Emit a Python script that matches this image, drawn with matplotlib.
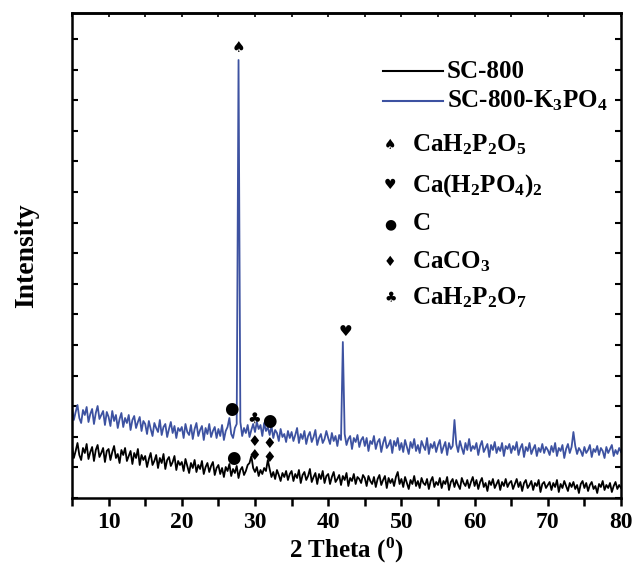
import numpy as np
import matplotlib
matplotlib.use("Agg")
import matplotlib.pyplot as plt

plt.rcParams['font.family'] = ['Liberation Serif', 'DejaVu Sans']
plt.rcParams['font.weight'] = 'bold'
plt.rcParams['mathtext.fontset'] = 'custom'
plt.rcParams['mathtext.rm'] = 'Liberation Serif:bold'
plt.rcParams['mathtext.it'] = 'Liberation Serif:bold'
plt.rcParams['mathtext.bf'] = 'Liberation Serif:bold'
plt.rcParams['path.simplify'] = False

# 2 theta scan, 0.25 deg step, 5 -> 80
two_theta = np.arange(5, 80.001, 0.25)

# SC-800-K3PO4 (a.u.)
sc800_k3po4 = [
    90, 78, 86, 93, 80, 75, 88, 83, 91, 76, 84, 89, 74, 85, 92, 79, 83, 87, 73, 86,
    81, 72, 87, 77, 83, 70, 79, 85, 71, 80, 75, 83, 68, 78, 82, 70, 76, 81, 67, 77,
    74, 64, 77, 69, 62, 75, 70, 66, 78, 63, 71, 74, 61, 69, 76, 65, 72, 60, 70, 67,
    71, 60, 74, 66, 63, 73, 59, 69, 75, 62, 68, 72, 58, 70, 64, 74, 61, 67, 71, 60,
    69, 62, 73, 58, 67, 71, 80, 64, 60, 70, 74, 438, 76, 62, 70, 65, 73, 61, 68, 74,
    66, 76, 69, 73, 62, 75, 67, 71, 63, 72, 60, 68, 65, 57, 69, 61, 64, 56, 67, 60,
    66, 57, 63, 70, 55, 64, 59, 67, 54, 62, 66, 56, 61, 68, 53, 60, 64, 55, 59, 67,
    60, 54, 65, 57, 62, 52, 63, 58, 156, 64, 53, 59, 62, 49, 60, 56, 63, 51, 58, 61,
    52, 60, 47, 57, 54, 62, 49, 56, 59, 46, 55, 61, 50, 53, 58, 45, 57, 52, 60, 48,
    55, 46, 58, 51, 44, 56, 50, 59, 47, 53, 45, 57, 52, 48, 60, 44, 54, 50, 56, 46,
    53, 58, 45, 51, 56, 43, 55, 49, 52, 78, 54, 46, 57, 50, 44, 55, 48, 59, 47, 52,
    49, 55, 43, 52, 57, 46, 50, 54, 41, 53, 48, 56, 45, 51, 47, 55, 42, 52, 49, 54,
    45, 52, 48, 56, 43, 50, 54, 41, 51, 47, 55, 44, 49, 53, 42, 50, 46, 54, 45, 51,
    48, 43, 52, 46, 55, 42, 50, 47, 53, 40, 49, 54, 45, 51, 66, 52, 44, 50, 47, 42,
    51, 45, 48, 53, 41, 49, 46, 52, 43, 50, 47, 40, 51, 45, 49, 53, 42, 48, 44, 50,
    46,
]

# SC-800 (a.u.)
sc800 = [
    52, 40, 47, 55, 43, 38, 50, 45, 54, 39, 46, 51, 37, 48, 53, 41, 45, 50, 36, 47,
    49, 38, 46, 52, 40, 44, 35, 48, 43, 50, 37, 42, 47, 34, 45, 40, 49, 33, 43, 38,
    42, 31, 39, 45, 33, 37, 43, 30, 40, 35, 44, 29, 38, 41, 32, 36, 42, 28, 37, 33,
    36, 27, 39, 32, 25, 35, 30, 38, 26, 33, 29, 37, 24, 31, 35, 26, 32, 36, 23, 30,
    33, 24, 30, 21, 31, 27, 34, 22, 29, 25, 32, 20, 28, 31, 23, 27, 33, 35, 42, 30,
    26, 31, 22, 28, 24, 30, 27, 38, 29, 21, 26, 19, 28, 23, 17, 25, 21, 27, 18, 24,
    27, 17, 24, 20, 28, 15, 23, 26, 18, 22, 29, 16, 21, 25, 14, 24, 19, 27, 15, 22,
    24, 14, 21, 26, 16, 19, 23, 13, 22, 18, 25, 12, 20, 17, 24, 14, 21, 19, 15, 23,
    20, 12, 22, 17, 14, 21, 11, 19, 23, 13, 18, 22, 10, 20, 15, 19, 12, 21, 26, 14,
    19, 11, 21, 15, 9, 18, 14, 22, 12, 17, 10, 20, 15, 13, 19, 9, 17, 21, 11, 16,
    13, 20, 10, 17, 14, 21, 8, 16, 19, 11, 18, 13, 9, 20, 15, 12, 18, 10, 16, 21,
    12, 18, 9, 16, 20, 11, 15, 7, 17, 13, 19, 10, 14, 18, 8, 16, 12, 19, 11, 15,
    17, 9, 14, 19, 11, 16, 7, 15, 18, 10, 13, 17, 8, 15, 12, 18, 6, 14, 16, 10,
    13, 16, 8, 15, 11, 18, 6, 14, 10, 17, 12, 7, 15, 11, 16, 9, 13, 5, 14, 17,
    10, 15, 7, 13, 16, 9, 12, 5, 14, 11, 17, 8, 13, 10, 15, 6, 12, 16, 9, 13,
    10,
]

# phase marks: (2theta, height, symbol)
peak_marks = [
    (27.7, 450, '\u2660'),
    (42.3, 166, '\u2665'),
    (26.7, 89, '\u25cf'),
    (31.95, 77, '\u25cf'),
    (29.9, 80, '\u2663'),
    (29.9, 56, '\u2666'),
    (31.9, 55, '\u2666'),
    (27.0, 40, '\u25cf'),
    (29.9, 42, '\u2666'),
    (31.9, 40, '\u2666'),
]

legend_phases = [
    ('\u2660', r'CaH$_2$P$_2$O$_5$'),
    ('\u2665', r'Ca(H$_2$PO$_4$)$_2$'),
    ('\u25cf', 'C'),
    ('\u2666', r'CaCO$_3$'),
    ('\u2663', r'CaH$_2$P$_2$O$_7$'),
]

blue = '#3d52a1'

fig = plt.figure(figsize=(6.35, 5.76), dpi=100)
ax = fig.add_axes([72/635, 1 - 498/576, 549/635, 485/576])

ax.plot(two_theta, sc800, color='black', lw=1.3)
ax.plot(two_theta, sc800_k3po4, color=blue, lw=1.3)

for x, y, s in peak_marks:
    fs = 12 if s == '\u25cf' else 11
    ax.text(x, y, s, family='DejaVu Sans', fontsize=fs, ha='center', va='center')

ax.set_xlim(5, 80)
ax.set_ylim(0, 485)
ax.set_xticks(np.arange(10, 81, 10))
ax.set_xticks(np.arange(5, 81, 5), minor=True)
ax.set_yticks(np.arange(0, 485, 30.6))
ax.set_yticklabels([])
ax.tick_params(axis='x', which='both', direction='out', width=1.8, labelsize=17, pad=4)
ax.tick_params(axis='x', which='major', length=6)
ax.tick_params(axis='x', which='minor', length=6)
ax.tick_params(axis='y', which='both', direction='in', length=4, width=1.5,
               left=True, right=True)
for lab in ax.get_xticklabels():
    lab.set_fontweight('bold')

top = ax.secondary_xaxis('top')
top.set_xticks(np.arange(5, 81, 5))
top.set_xticklabels([])
top.tick_params(direction='in', length=3, width=1.2)
top.spines['top'].set_linewidth(1.8)

for sp in ax.spines.values():
    sp.set_linewidth(1.8)

ax.set_xlabel(r'2 Theta ($^{\mathbf{0}}$)', fontsize=18, fontweight='bold', labelpad=2)
ax.set_ylabel('Intensity', fontsize=20, fontweight='bold', labelpad=20)

# legend drawn by hand
tr = ax.transAxes
ax.plot([0.5665, 0.6758], [0.880, 0.880], color='black', lw=1.5, transform=tr)
ax.text(0.683, 0.880, 'SC-800', transform=tr, fontsize=18, fontweight='bold',
        va='center', ha='left')
ax.plot([0.5665, 0.6758], [0.8186, 0.8186], color=blue, lw=1.5, transform=tr)
ax.text(0.683, 0.8186, r'SC-800-K$_3$PO$_4$', transform=tr, fontsize=18,
        fontweight='bold', va='center', ha='left')

ys = [0.728, 0.645, 0.565, 0.4866, 0.412]
for (sym, name), y in zip(legend_phases, ys):
    ax.text(0.58, y, sym, transform=tr, family='DejaVu Sans', fontsize=10,
            ha='center', va='center')
    ax.text(0.62, y, name, transform=tr, fontsize=18, fontweight='bold',
            ha='left', va='center')

fig.savefig('out.png', dpi=100)
